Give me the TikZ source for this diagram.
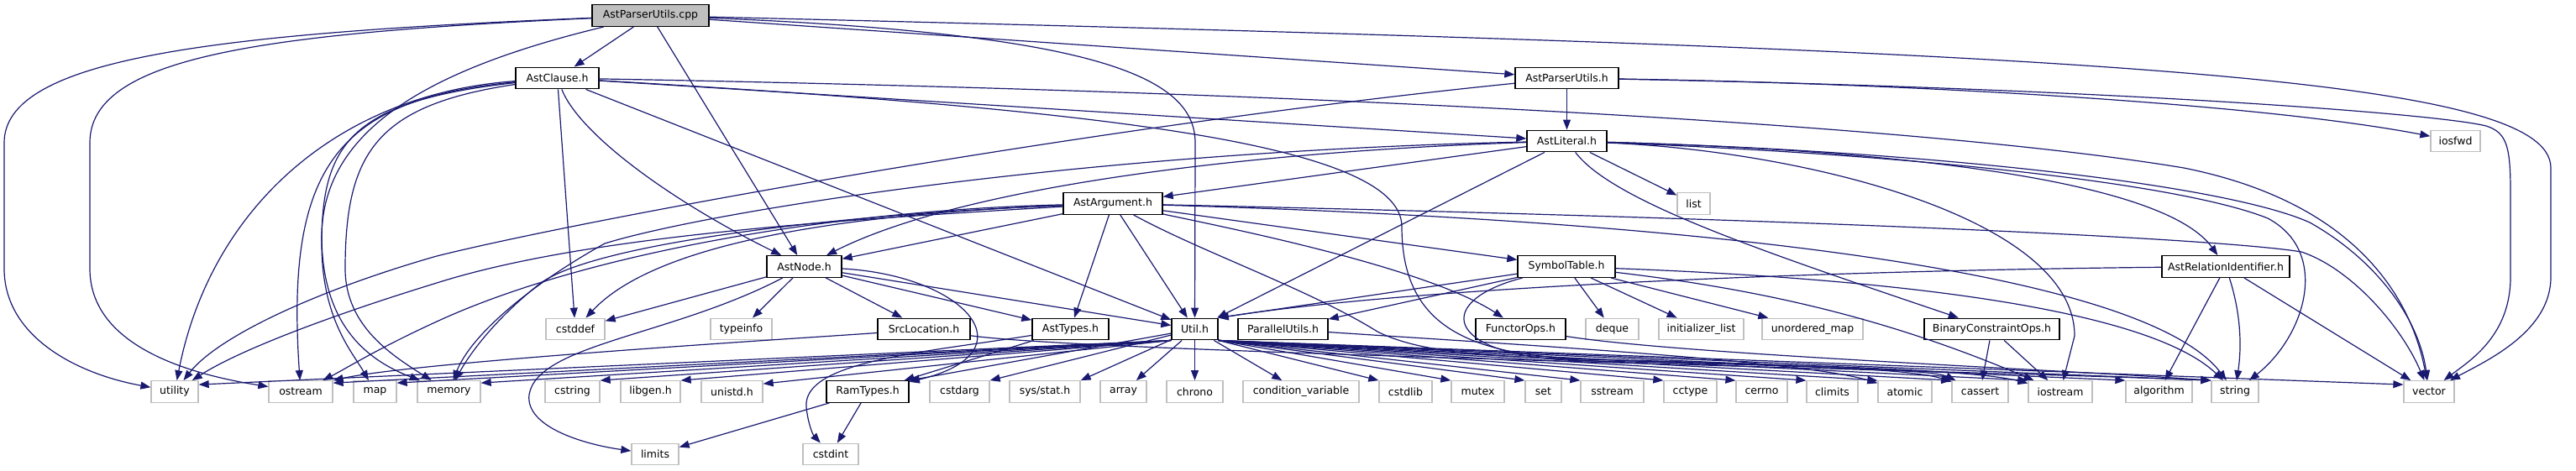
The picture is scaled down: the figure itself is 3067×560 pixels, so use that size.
\documentclass[tikz,border=0pt]{standalone}
\usepackage{fontspec}
\setmainfont{DejaVu Sans}
\usetikzlibrary{arrows.meta}
\definecolor{edgec}{HTML}{191970}
\definecolor{grayb}{HTML}{BFBFBF}
\begin{document}
\begin{tikzpicture}[x=1pt,y=-1pt,
  box/.style={inner sep=0pt, minimum height=25.5pt, font=\fontsize{12.5}{15}\selectfont, text=black, fill=white},
  hdr/.style={box, draw=black, line width=1.4pt},
  sys/.style={box, draw=grayb, line width=1.3pt},
  edg/.style={draw=edgec, line width=1.2pt, -{Triangle[length=12pt,width=9pt]}}]
\useasboundingbox (0,0) rectangle (3067,560);
% row 1
\node[hdr, fill=grayb, minimum width=139pt] (cpp) at (774.5,18.5) {AstParserUtils.cpp};
% row 2
\node[hdr, minimum width=99pt] (cl) at (663.5,93) {AstClause.h};
\node[hdr, minimum width=123pt] (apu) at (1865.5,93) {AstParserUtils.h};
% row 3
\node[hdr, minimum width=95pt] (lit) at (1865.5,168) {AstLiteral.h};
\node[sys, minimum width=59pt] (iosfwd) at (2923.5,168) {iosfwd};
% row 4
\node[hdr, minimum width=118pt] (arg) at (1325,242.5) {AstArgument.h};
\node[sys, minimum width=39pt] (lst) at (2016.5,242.5) {list};
% row 5
\node[hdr, minimum width=89pt] (anode) at (957.5,317.5) {AstNode.h};
\node[hdr, minimum width=116pt] (sym) at (1865,317.5) {SymbolTable.h};
\node[hdr, minimum width=152pt] (rid) at (2650,317.5) {AstRelationIdentifier.h};
% row 6
\node[sys, minimum width=70pt] (cstddef) at (685,392) {cstddef};
\node[sys, minimum width=73pt] (typeinfo) at (882.5,392) {typeinfo};
\node[hdr, minimum width=110pt] (src) at (1100,392) {SrcLocation.h};
\node[hdr, minimum width=91pt] (types) at (1274.5,392) {AstTypes.h};
\node[hdr, minimum width=55pt] (util) at (1422.5,392) {Util.h};
\node[hdr, minimum width=107pt] (par) at (1527.5,392) {ParallelUtils.h};
\node[hdr, minimum width=107pt] (fop) at (1810.5,392) {FunctorOps.h};
\node[sys, minimum width=63pt] (deque) at (1919.5,392) {deque};
\node[sys, minimum width=101pt] (init) at (2025.5,392) {initializer\_list};
\node[sys, minimum width=120pt] (umap) at (2158,392) {unordered\_map};
\node[hdr, minimum width=161pt] (bco) at (2371.5,392) {BinaryConstraintOps.h};
% row 7
\node[sys, minimum width=56pt] (utl) at (208,466.5) {utility};
\node[sys, minimum width=76pt] (ostr) at (358,466.5) {ostream};
\node[sys, minimum width=51pt] (mapn) at (446.5,466.5) {map};
\node[sys, minimum width=75pt] (mem) at (534.5,466.5) {memory};
\node[sys, minimum width=65pt] (cstr) at (681.5,466.5) {cstring};
\node[sys, minimum width=71pt] (libgen) at (774.5,466.5) {libgen.h};
\node[sys, minimum width=73pt] (unistd) at (871.5,466.5) {unistd.h};
\node[hdr, minimum width=98pt] (ram) at (1033,466.5) {RamTypes.h};
\node[sys, minimum width=71pt] (cstdarg) at (1142.5,466.5) {cstdarg};
\node[sys, minimum width=84pt] (sysstat) at (1244,466.5) {sys/stat.h};
\node[sys, minimum width=55pt] (arr) at (1337.5,466.5) {array};
\node[sys, minimum width=67pt] (chrono) at (1422.5,466.5) {chrono};
\node[sys, minimum width=138pt] (condvar) at (1549,466.5) {condition\_variable};
\node[sys, minimum width=63pt] (cstdlib) at (1673.5,466.5) {cstdlib};
\node[sys, minimum width=63pt] (mutex) at (1759.5,466.5) {mutex};
\node[sys, minimum width=43pt] (setn) at (1837.5,466.5) {set};
\node[sys, minimum width=75pt] (sstream) at (1919.5,466.5) {sstream};
\node[sys, minimum width=63pt] (cctype) at (2012.5,466.5) {cctype};
\node[sys, minimum width=61pt] (cerrno) at (2097.5,466.5) {cerrno};
\node[sys, minimum width=61pt] (climits) at (2181.5,466.5) {climits};
\node[sys, minimum width=64pt] (atomic) at (2268,466.5) {atomic};
\node[sys, minimum width=67pt] (cassert) at (2357.5,466.5) {cassert};
\node[sys, minimum width=76pt] (iostream) at (2453,466.5) {iostream};
\node[sys, minimum width=79pt] (algo) at (2570.5,466.5) {algorithm};
\node[sys, minimum width=56pt] (strn) at (2661,466.5) {string};
\node[sys, minimum width=60pt] (vect) at (2892,466.5) {vector};
% row 8
\node[sys, minimum width=56pt] (limits) at (780,541) {limits};
\node[sys, minimum width=66pt] (cstdint) at (989,541) {cstdint};

% ---- AstParserUtils.cpp
\draw[edg] (cpp) -- (cl);
\draw[edg] (cpp) -- (anode);
\draw[edg] (cpp) -- (apu);
\draw[edg] (cpp) .. controls (1300,40) and (1423,90) .. (1423,170) -- (util);
\draw[edg] (cpp) .. controls (2500,60) and (3037,90) .. (3037,200) -- (3037,330) .. controls (3037,395) and (2960,430) .. (vect);
\draw[edg] (cpp) .. controls (250,40) and (5,70) .. (5,170) -- (5,320) .. controls (5,400) and (90,445) .. (utl);
\draw[edg] (cpp) .. controls (300,40) and (107,70) .. (107,170) -- (107,320) .. controls (107,410) and (220,445) .. (ostr);
\draw[edg] (cpp) .. controls (520,80) and (385,150) .. (383,280) .. controls (383,390) and (440,430) .. (mem);
% ---- AstClause.h
\draw[edg] (cl) -- (lit);
\draw[edg] (cl) .. controls (690,160) and (800,240) .. (anode);
\draw[edg] (cl) -- (util);
\draw[edg] (cl) -- (cstddef);
\draw[edg] (cl) .. controls (400,112) and (250,250) .. (utl);
\draw[edg] (cl) .. controls (400,118) and (340,200) .. (ostr);
\draw[edg] (cl) .. controls (420,120) and (383,170) .. (383,290) .. controls (383,380) and (420,420) .. (mapn);
\draw[edg] (cl) .. controls (450,125) and (411,180) .. (411,320) .. controls (411,390) and (470,425) .. (mem);
\draw[edg] (cl) .. controls (1600,110) and (2300,150) .. (2600,200) .. controls (2800,240) and (2870,350) .. (vect);
\draw[edg] (cl) .. controls (1300,130) and (1669,170) .. (1669,270) .. controls (1669,390) and (1750,425) .. (1900,428) .. controls (2150,435) and (2350,440) .. (iostream);
% ---- AstParserUtils.h
\draw[edg] (apu) -- (lit);
\draw[edg] (apu) .. controls (2300,100) and (2700,125) .. (iosfwd);
\draw[edg] (apu) .. controls (2500,105) and (2900,135) .. (2960,150) .. controls (2985,158) and (2989,175) .. (2989,230) -- (2989,330) .. controls (2989,400) and (2940,430) .. (vect);
\draw[edg] (apu) .. controls (1300,150) and (700,260) .. (520,305) .. controls (380,345) and (260,400) .. (utl);
% ---- AstLiteral.h
\draw[edg] (lit) -- (arg);
\draw[edg] (lit) .. controls (1500,180) and (1150,220) .. (anode);
\draw[edg] (lit) -- (util);
\draw[edg] (lit) -- (lst);
\draw[edg] (lit) .. controls (2300,180) and (2580,220) .. (rid);
\draw[edg] (lit) .. controls (1920,240) and (2100,300) .. (bco);
\draw[edg] (lit) .. controls (2150,180) and (2470,260) .. (2470,400) -- (iostream);
\draw[edg] (lit) .. controls (2300,185) and (2600,220) .. (2700,260) .. controls (2775,300) and (2745,400) .. (strn);
\draw[edg] (lit) .. controls (2300,180) and (2650,220) .. (2750,265) .. controls (2830,310) and (2880,380) .. (vect);
\draw[edg] (lit) .. controls (1300,180) and (850,250) .. (720,290) .. controls (630,340) and (560,400) .. (mem);
% ---- AstArgument.h
\draw[edg] (arg) -- (anode);
\draw[edg] (arg) -- (types);
\draw[edg] (arg) -- (util);
\draw[edg] (arg) -- (sym);
\draw[edg] (arg) .. controls (1480,275) and (1700,320) .. (fop);
\draw[edg] (arg) .. controls (1430,300) and (1560,345) .. (1640,395) .. controls (1700,425) and (1800,425) .. (1950,430) .. controls (2150,435) and (2280,440) .. (cassert);
\draw[edg] (arg) .. controls (2000,262) and (2550,320) .. (strn);
\draw[edg] (arg) .. controls (2200,262) and (2650,285) .. (2740,300) .. controls (2800,320) and (2860,390) .. (vect);
\draw[edg] (arg) .. controls (1000,262) and (700,280) .. (520,337) .. controls (380,380) and (280,420) .. (utl);
\draw[edg] (arg) .. controls (1000,250) and (700,300) .. (520,383) .. controls (450,415) and (410,440) .. (ostr);
\draw[edg] (arg) .. controls (1000,255) and (780,290) .. (cstddef);
\draw[edg] (arg) .. controls (1000,255) and (700,290) .. (640,340) .. controls (590,380) and (560,420) .. (mem);
% ---- AstNode.h
\draw[edg] (anode) -- (cstddef);
\draw[edg] (anode) -- (typeinfo);
\draw[edg] (anode) -- (src);
\draw[edg] (anode) -- (types);
\draw[edg] (anode) -- (util);
\draw[edg] (anode) .. controls (1150,328) and (1230,420) .. (ram);
\draw[edg] (anode) .. controls (800,400) and (640,410) .. (630,470) .. controls (625,510) and (700,530) .. (limits);
% ---- SymbolTable.h
\draw[edg] (sym) -- (util.north east);
\draw[edg] (sym) -- (par);
\draw[edg] (sym) -- (deque);
\draw[edg] (sym) -- (init);
\draw[edg] (sym) -- (umap);
\draw[edg] (sym) .. controls (1700,360) and (1720,430) .. (1900,430) .. controls (2150,436) and (2300,440) .. (cassert);
\draw[edg] (sym) .. controls (2100,345) and (2250,380) .. (iostream);
\draw[edg] (sym) .. controls (2200,330) and (2550,360) .. (strn);
% ---- AstRelationIdentifier.h
\draw[edg] (rid) .. controls (2200,322) and (1700,340) .. (util.north east);
\draw[edg] (rid) -- (algo);
\draw[edg] (rid) .. controls (2670,380) and (2668,420) .. (strn);
\draw[edg] (rid) -- (vect);
% ---- others
\draw[edg] (bco) -- (cassert);
\draw[edg] (bco) -- (iostream);
\draw[edg] (fop) .. controls (2000,422) and (2450,440) .. (strn.north west);
\draw[edg] (par) .. controls (1800,410) and (2150,430) .. (atomic);
\draw[edg] (src) .. controls (1000,400) and (500,430) .. (ostr.north east);
\draw[edg] (src) .. controls (1300,420) and (2300,440) .. (strn.north west);
\draw[edg] (types) -- (ram);
\draw[edg] (types) .. controls (1100,420) and (955,430) .. (960,485) .. controls (962,505) and (968,518) .. (cstdint);
\draw[edg] (ram) -- (limits);
\draw[edg] (ram) -- (cstdint);
% ---- Util.h
\draw[edg] (util.south west) -- ([yshift=-5pt]utl.north east);
\draw[edg] (util.south west) -- ([yshift=-3pt]ostr.north east);
\draw[edg] (util.south west) -- ([yshift=-3pt]mapn.north east);
\draw[edg] (util.south west) -- ([yshift=-3pt]mem.north east);
\draw[edg] (util.south west) -- (cstr.north east);
\draw[edg] (util.south west) -- (libgen.north east);
\draw[edg] (util.south west) -- ([yshift=-4pt]unistd.north east);
\draw[edg] (util) -- (ram.north east);
\draw[edg] (util) -- (cstdarg.north east);
\draw[edg] (util) -- (sysstat.north east);
\draw[edg] (util) -- (arr);
\draw[edg] (util) -- (chrono);
\draw[edg] (util) -- (condvar);
\draw[edg] (util.south east) -- (cstdlib.north west);
\draw[edg] (util.south east) -- (mutex.north west);
\draw[edg] (util.south east) -- (setn.north west);
\draw[edg] (util.south east) -- (sstream.north west);
\draw[edg] (util.south east) -- (cctype.north west);
\draw[edg] (util.south east) -- (cerrno.north west);
\draw[edg] (util.south east) -- (climits.north west);
\draw[edg] (util.south east) -- (atomic.north west);
\draw[edg] (util.south east) -- (cassert.north west);
\draw[edg] (util.south east) -- (iostream.north west);
\draw[edg] (util.south east) -- (algo.north west);
\draw[edg] (util.south east) -- (strn.north west);
\draw[edg] (util.south east) -- ([yshift=-5pt]vect.north west);
\end{tikzpicture}
\end{document}
